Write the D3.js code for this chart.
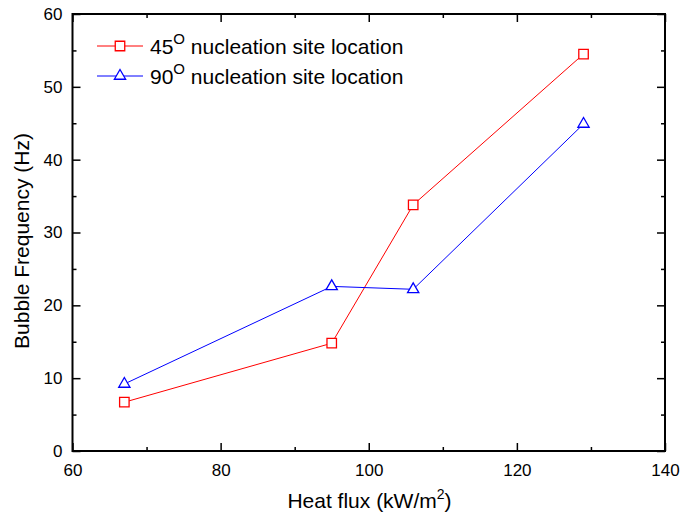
<html>
<head>
<script src="https://d3js.org/d3.v7.min.js"></script>
<style>
  body { margin: 0; background: #fff; }
  text { font-family: "Liberation Sans", Arial, sans-serif; }
</style>
</head>
<body>
<div id="chart"></div>
<script>
var heatFlux = [67, 95, 106, 129];
var freq45 = [6.7, 14.8, 33.8, 54.5];
var freq90 = [9.2, 22.6, 22.2, 44.9];
var xTicks = [60, 80, 100, 120, 140];
var yTicks = [0, 10, 20, 30, 40, 50, 60];

var width = 680, height = 519;
var plotLeft = 72.5, plotRight = 665, plotTop = 14, plotBottom = 451;

var svg = d3.select('#chart').append('svg')
    .attr('width', width)
    .attr('height', height);

var x = d3.scaleLinear().domain([60, 140]).range([plotLeft, plotRight]);
var y = d3.scaleLinear().domain([0, 60]).range([plotBottom, plotTop]);

function styleAxis(g, labels) {
    g.select('.domain').remove();
    g.selectAll('line').attr('stroke', '#000').attr('stroke-width', 1.5);
    g.selectAll('text').attr('font-size', 17).attr('fill', '#000');
    if (!labels) g.selectAll('text').remove();
}

var xMinor = d3.range(70, 140, 20);
var yMinor = d3.range(5, 60, 10);

// bottom
svg.append('g').attr('transform', 'translate(0,' + plotBottom + ')')
    .call(d3.axisBottom(x).tickValues(xTicks).tickSizeInner(-8).tickSizeOuter(0).tickPadding(13))
    .call(styleAxis, true);
svg.append('g').attr('transform', 'translate(0,' + plotBottom + ')')
    .call(d3.axisBottom(x).tickValues(xMinor).tickSize(-4))
    .call(styleAxis, false);
// top
svg.append('g').attr('transform', 'translate(0,' + plotTop + ')')
    .call(d3.axisTop(x).tickValues(xTicks).tickSize(-8))
    .call(styleAxis, false);
svg.append('g').attr('transform', 'translate(0,' + plotTop + ')')
    .call(d3.axisTop(x).tickValues(xMinor).tickSize(-4))
    .call(styleAxis, false);
// left
svg.append('g').attr('transform', 'translate(' + plotLeft + ',0)')
    .call(d3.axisLeft(y).tickValues(yTicks).tickSizeInner(-8).tickSizeOuter(0).tickPadding(10))
    .call(styleAxis, true);
svg.append('g').attr('transform', 'translate(' + plotLeft + ',0)')
    .call(d3.axisLeft(y).tickValues(yMinor).tickSize(-4))
    .call(styleAxis, false);
// right
svg.append('g').attr('transform', 'translate(' + plotRight + ',0)')
    .call(d3.axisRight(y).tickValues(yTicks).tickSize(-8))
    .call(styleAxis, false);
svg.append('g').attr('transform', 'translate(' + plotRight + ',0)')
    .call(d3.axisRight(y).tickValues(yMinor).tickSize(-4))
    .call(styleAxis, false);

// frame
svg.append('rect')
    .attr('x', plotLeft).attr('y', plotTop)
    .attr('width', plotRight - plotLeft).attr('height', plotBottom - plotTop)
    .attr('fill', 'none').attr('stroke', '#000').attr('stroke-width', 2);

var series = [
    { name: '45', values: freq45, color: '#ff0000', symbol: d3.symbolSquare, size: 90 },
    { name: '90', values: freq90, color: '#0000ff', symbol: d3.symbolTriangle, size: 55 }
];

var line = d3.line()
    .x(function (d) { return x(d[0]); })
    .y(function (d) { return y(d[1]); });

series.forEach(function (s) {
    var pts = heatFlux.map(function (h, i) { return [h, s.values[i]]; });
    svg.append('path')
        .attr('d', line(pts))
        .attr('fill', 'none')
        .attr('stroke', s.color)
        .attr('stroke-width', 1);
    svg.selectAll(null).data(pts).enter().append('path')
        .attr('d', d3.symbol().type(s.symbol).size(s.size))
        .attr('transform', function (d) { return 'translate(' + x(d[0]) + ',' + y(d[1]) + ')'; })
        .attr('fill', '#fff')
        .attr('stroke', s.color)
        .attr('stroke-width', 1.3);
});

// legend
var legend = svg.append('g');
series.forEach(function (s, i) {
    var ly = 46 + i * 30;
    legend.append('line')
        .attr('x1', 97).attr('x2', 143).attr('y1', ly).attr('y2', ly)
        .attr('stroke', s.color).attr('stroke-width', 1);
    legend.append('path')
        .attr('d', d3.symbol().type(s.symbol).size(s.size))
        .attr('transform', 'translate(120,' + ly + ')')
        .attr('fill', '#fff').attr('stroke', s.color).attr('stroke-width', 1.3);
    var t = legend.append('text')
        .attr('x', 150).attr('y', ly + 8)
        .attr('font-size', 21).attr('fill', '#000');
    t.append('tspan').text(s.name);
    t.append('tspan').attr('dy', -10).attr('font-size', 15).text('O');
    t.append('tspan').attr('dy', 10).text(' nucleation site location');
});

// axis titles
var xt = svg.append('text')
    .attr('x', 369.5).attr('y', 508)
    .attr('text-anchor', 'middle')
    .attr('font-size', 21).attr('fill', '#000');
xt.append('tspan').text('Heat flux (kW/m');
xt.append('tspan').attr('dy', -9).attr('font-size', 14).text('2');
xt.append('tspan').attr('dy', 9).text(')');

svg.append('text')
    .attr('transform', 'translate(29,241) rotate(-90)')
    .attr('text-anchor', 'middle')
    .attr('font-size', 21).attr('fill', '#000')
    .text('Bubble Frequency (Hz)');
</script>
</body>
</html>
